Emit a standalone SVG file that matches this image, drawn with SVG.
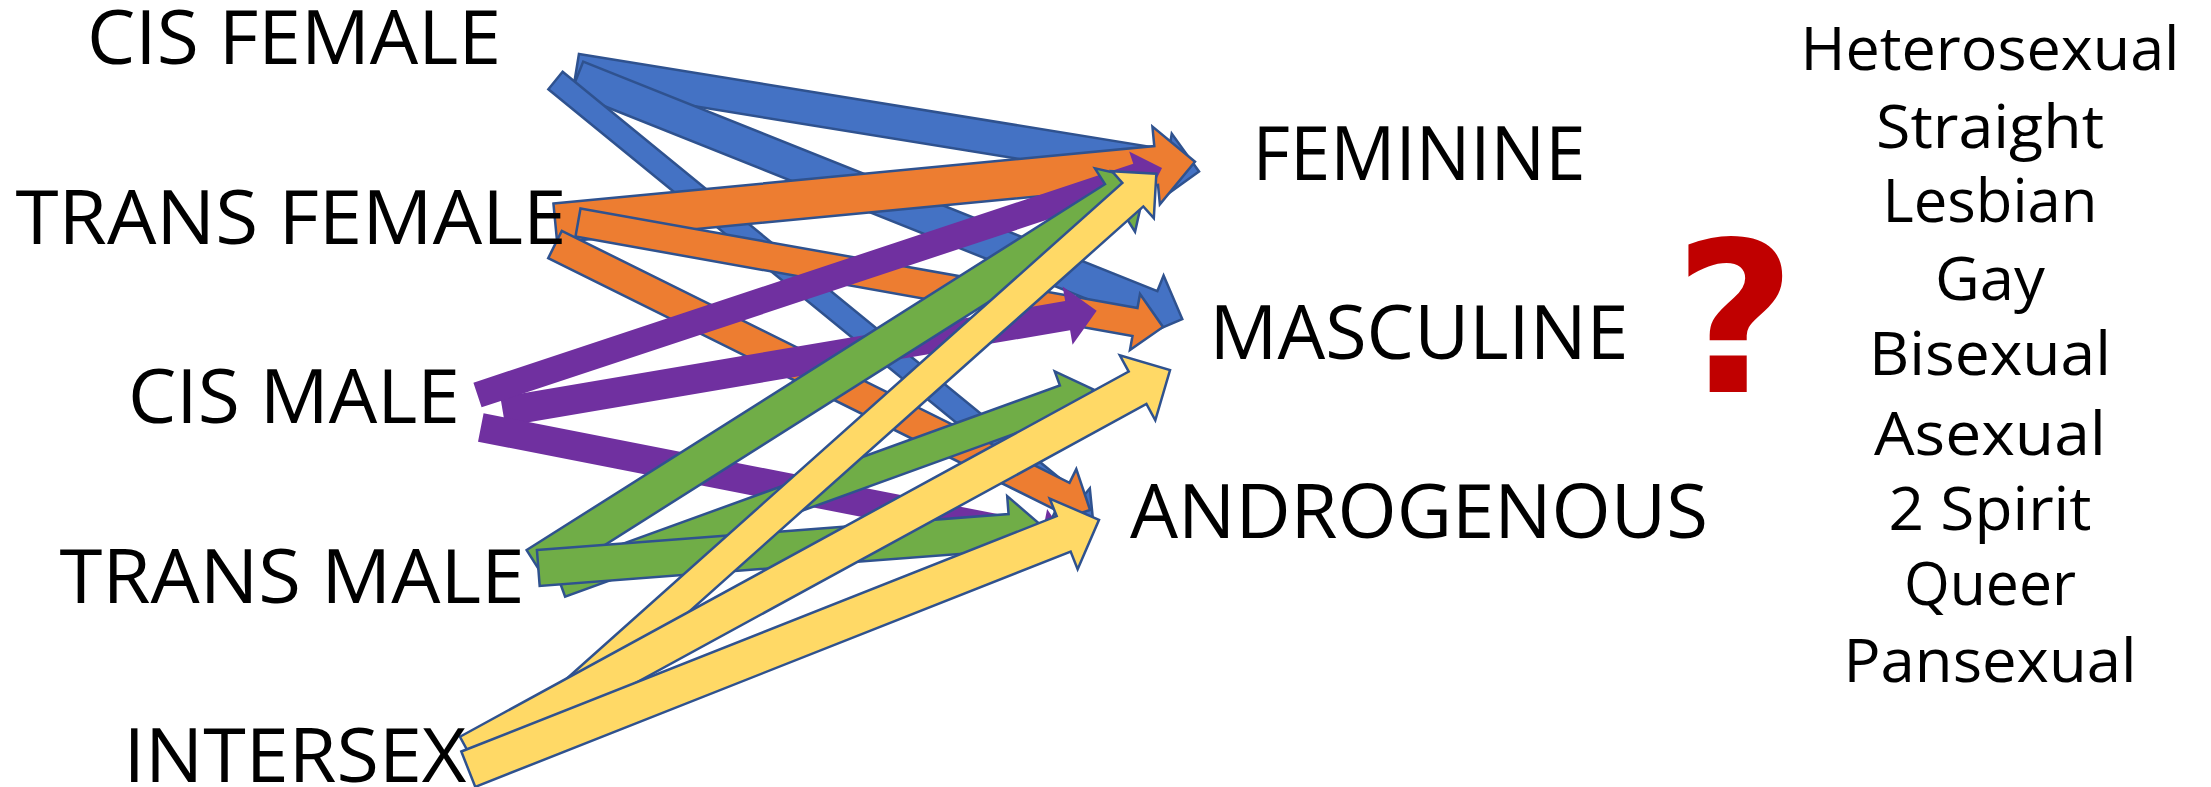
<svg xmlns="http://www.w3.org/2000/svg" width="2211" height="787" viewBox="0 0 2211 787">
<style>
.lbl{font-family:"Open Sans","Liberation Sans",sans-serif;font-size:75px;fill:#000;text-anchor:middle}
.lst{font-family:"Open Sans","Liberation Sans",sans-serif;font-size:60px;fill:#000;text-anchor:middle}
.q{font-family:"DejaVu Sans","Liberation Sans",sans-serif;font-size:210px;font-weight:bold;fill:#C00000;text-anchor:middle}
.a{stroke:#2F528F;stroke-width:2.5;stroke-linejoin:miter}
.blue{fill:#4472C4}
.orange{fill:#ED7D31}
.purple{fill:#7030A0;stroke:none}
.green{fill:#70AD47}
.yellow{fill:#FFD966}
</style>
<rect width="2211" height="787" fill="#fff"/>
<g id="connectors">
<polygon class="a blue" transform="translate(576.3 70.3) rotate(9.23)" points="0,-16.5 597.9,-16.5 597.9,-33 630.9,0 597.9,33 597.9,16.5 0,16.5"/>
<polygon class="a blue" transform="translate(577 77.2) rotate(21.78)" points="0,-16.75 618.3,-16.75 618.3,-33.5 651.8,0 618.3,33.5 618.3,16.75 0,16.75"/>
<polygon class="a blue" transform="translate(555.5 80.5) rotate(39.27)" points="0,-11.25 671.8,-11.25 671.8,-22.5 694.3,0 671.8,22.5 671.8,11.25 0,11.25"/>
<polygon class="a orange" transform="translate(555.3 223) rotate(-5.47)" points="0,-19.5 603.6,-19.5 603.6,-39 642.6,0 603.6,39 603.6,19.5 0,19.5"/>
<polygon class="a orange" transform="translate(578 222.5) rotate(10.13)" points="0,-14.25 565.8,-14.25 565.8,-28.5 594.3,0 565.8,28.5 565.8,14.25 0,14.25"/>
<polygon class="a orange" transform="translate(555 244.5) rotate(26.39)" points="0,-15.25 566.8,-15.25 566.8,-30.5 597.3,0 566.8,30.5 566.8,15.25 0,15.25"/>
<polygon class="purple" transform="translate(502.8 411.6) rotate(-9.64)" points="0,-14.75 572.9,-14.75 572.9,-29.5 602.4,0 572.9,29.5 572.9,14.75 0,14.75"/>
<polygon class="purple" transform="translate(477.5 395) rotate(-18.35)" points="0,-13 695.2,-13 695.2,-26 721.2,0 695.2,26 695.2,13 0,13"/>
<polygon class="purple" transform="translate(480.8 427.5) rotate(11.09)" points="0,-14.5 571.4,-14.5 571.4,-29 600.4,0 571.4,29 571.4,14.5 0,14.5"/>
<polygon class="a green" transform="translate(536.7 565.9) rotate(-32.32)" points="0,-18.75 684.3,-18.75 684.3,-37.5 721.8,0 684.3,37.5 684.3,18.75 0,18.75"/>
<polygon class="a green" transform="translate(560 582.5) rotate(-19.92)" points="0,-15 537.1,-15 537.1,-30 567.1,0 537.1,30 537.1,15 0,15"/>
<polygon class="a green" transform="translate(538.3 568) rotate(-4.36)" points="0,-18 473,-18 473,-36 509,0 473,36 473,18 0,18"/>
<polygon class="a yellow" transform="translate(530.6 732) rotate(-41.74)" points="0,-15.75 807.1,-15.75 807.1,-31.5 838.6,0 807.1,31.5 807.1,15.75 0,15.75"/>
<polygon class="a yellow" transform="translate(468.8 753) rotate(-28.64)" points="0,-18.5 762,-18.5 762,-37 799,0 762,37 762,18.5 0,18.5"/>
<polygon class="a yellow" transform="translate(468.3 769.2) rotate(-21.57)" points="0,-19 640.2,-19 640.2,-38 678.2,0 640.2,38 640.2,19 0,19"/>
</g>
<g id="node-cis-female"><text class="lbl" x="294" y="64" textLength="414" lengthAdjust="spacingAndGlyphs">CIS FEMALE</text></g>
<g id="node-trans-female"><text class="lbl" x="291" y="244" textLength="551" lengthAdjust="spacingAndGlyphs">TRANS FEMALE</text></g>
<g id="node-cis-male"><text class="lbl" x="294" y="423" textLength="332" lengthAdjust="spacingAndGlyphs">CIS MALE</text></g>
<g id="node-trans-male"><text class="lbl" x="292" y="603" textLength="465" lengthAdjust="spacingAndGlyphs">TRANS MALE</text></g>
<g id="node-intersex"><text class="lbl" x="295" y="782" textLength="343" lengthAdjust="spacingAndGlyphs">INTERSEX</text></g>
<g id="node-feminine"><text class="lbl" x="1419" y="180" textLength="333" lengthAdjust="spacingAndGlyphs">FEMININE</text></g>
<g id="node-masculine"><text class="lbl" x="1419" y="359" textLength="419" lengthAdjust="spacingAndGlyphs">MASCULINE</text></g>
<g id="node-androgenous"><text class="lbl" x="1419" y="538" textLength="578" lengthAdjust="spacingAndGlyphs">ANDROGENOUS</text></g>
<g id="node-question"><text class="q" x="1735" y="392">?</text></g>
<g id="node-orientations">
<text class="lst" x="1990" y="70" textLength="379" lengthAdjust="spacingAndGlyphs">Heterosexual</text>
<text class="lst" x="1990" y="148" textLength="228" lengthAdjust="spacingAndGlyphs">Straight</text>
<text class="lst" x="1990" y="222" textLength="215" lengthAdjust="spacingAndGlyphs">Lesbian</text>
<text class="lst" x="1990" y="300" textLength="110" lengthAdjust="spacingAndGlyphs">Gay</text>
<text class="lst" x="1990" y="375" textLength="242" lengthAdjust="spacingAndGlyphs">Bisexual</text>
<text class="lst" x="1990" y="455" textLength="232" lengthAdjust="spacingAndGlyphs">Asexual</text>
<text class="lst" x="1990" y="530" textLength="203" lengthAdjust="spacingAndGlyphs">2 Spirit</text>
<text class="lst" x="1990" y="605" textLength="172" lengthAdjust="spacingAndGlyphs">Queer</text>
<text class="lst" x="1990" y="682" textLength="293" lengthAdjust="spacingAndGlyphs">Pansexual</text>
</g>
</svg>
